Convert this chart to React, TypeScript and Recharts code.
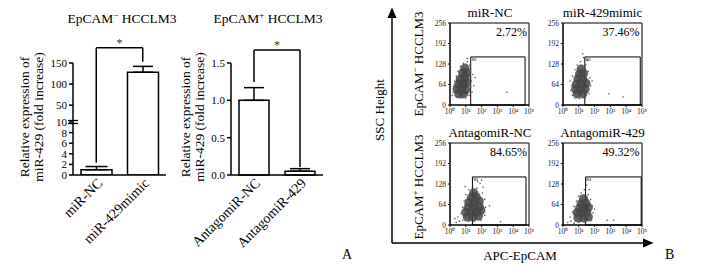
import React from "react";
import {
  BarChart,
  Bar,
  XAxis,
  YAxis,
  ErrorBar,
  ReferenceLine,
  ReferenceArea,
  ScatterChart,
  Scatter,
} from "recharts";

const SERIF = "'Liberation Serif', 'Times New Roman', serif";

// panel A (left): EpCAM- cells, y axis broken at 10
const mimicGroups = ["miR-NC", "miR-429mimic"];
const mimicMeans = [1.0, 128];
const mimicErrors = [0.6, 14];
const mimicLowTicks = [0, 2, 4, 6, 8, 10];
const mimicHighTicks = [50, 100, 150];
const mimicBreak = 10;
const mimicBracketTop = 186; // upper axis units
const mimicBracketLeft = 2.3; // lower axis units
const mimicBracketRight = 153;

// panel A (right): EpCAM+ cells
const antagoGroups = ["AntagomiR-NC", "AntagomiR-429"];
const antagoMeans = [1.0, 0.05];
const antagoErrors = [0.17, 0.035];
const antagoTicks = [0, 0.5, 1.0, 1.5];
const antagoBracketTop = 1.674;
const antagoBracketLeft = 1.245;
const antagoBracketRight = 0.107;

// panel B: flow cytometry (x in decades of APC-EpCAM, y = SSC height)
const decadeTicks = [0, 1, 2, 3, 4, 5];
const decadeLabels = ["10⁰", "10¹", "10²", "10³", "10⁴", "10⁵"];
const sscTicks = [0, 64, 128, 192, 256];
const flowTitles = ["miR-NC", "miR-429mimic", "AntagomiR-NC", "AntagomiR-429"];
const flowPercents = ["2.72%", "37.46%", "84.65%", "49.32%"];
const gateLeft = [1.31, 1.38, 1.42, 1.43];
const gateRight = [4.75, 4.89, 4.81, 4.95];
const gateTop = [150, 150, 150, 150];

const coreNC = [
  [0.55, 35], [0.85, 35], [0.45, 50], [0.75, 50], [1.0, 48], [0.55, 65], [0.85, 65],
  [1.05, 70], [0.65, 80], [0.95, 85], [0.8, 100], [1.05, 100], [0.95, 115],
];
const spreadNC = [
  [0.2, 40], [0.3, 75], [0.4, 90], [0.5, 105], [0.65, 120], [0.85, 130], [1.1, 135],
  [1.25, 125], [1.3, 110], [1.25, 90], [1.35, 75], [1.3, 55], [1.2, 30], [1.0, 22],
  [0.7, 22], [0.4, 25], [0.25, 58], [1.45, 95], [1.5, 60], [1.1, 145], [3.6, 40],
  [1.6, 85], [0.15, 30], [1.4, 40],
];
const coreMimic = [
  [0.9, 35], [1.25, 35], [0.8, 50], [1.1, 50], [1.4, 50], [0.85, 65], [1.15, 65],
  [1.45, 68], [0.95, 82], [1.25, 82], [1.05, 97], [1.3, 98], [1.15, 112],
];
const spreadMimic = [
  [0.6, 30], [0.55, 60], [0.6, 90], [0.75, 110], [0.9, 125], [1.1, 135], [1.3, 148],
  [1.45, 125], [1.6, 105], [1.7, 85], [1.75, 60], [1.65, 35], [1.4, 22], [1.05, 20],
  [0.75, 22], [0.5, 45], [1.85, 75], [1.25, 160], [2.9, 35], [3.8, 25], [1.55, 140],
  [0.45, 75],
];
const coreAntagoNC = [
  [1.1, 25], [1.45, 25], [1.8, 28], [1.0, 40], [1.35, 40], [1.7, 42], [1.95, 45],
  [1.15, 55], [1.5, 55], [1.85, 58], [1.2, 70], [1.55, 70], [1.85, 75], [1.35, 85],
  [1.65, 88], [1.5, 100],
];
const spreadAntagoNC = [
  [0.4, 8], [0.6, 12], [0.8, 15], [0.5, 25], [0.7, 35], [0.8, 55], [0.9, 75], [1.0, 95],
  [1.2, 110], [1.45, 120], [1.7, 115], [1.9, 130], [2.0, 140], [2.05, 100], [2.2, 80],
  [2.25, 55], [2.2, 30], [1.95, 15], [1.5, 12], [1.2, 12], [0.3, 20], [2.1, 118],
  [1.75, 135], [3.2, 10], [2.5, 60], [0.95, 120],
];
const coreAntago429 = [
  [0.95, 22], [1.3, 22], [1.6, 25], [0.9, 38], [1.2, 38], [1.5, 40], [1.05, 52],
  [1.35, 52], [1.6, 55], [1.15, 66], [1.45, 68], [1.3, 82],
];
const spreadAntago429 = [
  [0.3, 8], [0.5, 12], [0.45, 25], [0.6, 40], [0.7, 58], [0.85, 75], [1.0, 90],
  [1.15, 100], [1.35, 110], [1.5, 125], [1.6, 95], [1.75, 80], [1.85, 60], [1.9, 38],
  [1.8, 15], [1.4, 8], [1.0, 8], [0.7, 5], [2.8, 15], [3.2, 15], [1.45, 140],
  [1.65, 110], [2.0, 50],
];
const flowCores = [coreNC, coreMimic, coreAntagoNC, coreAntago429];
const flowSpreads = [spreadNC, spreadMimic, spreadAntagoNC, spreadAntago429];

const tickStyle = { fontSize: 11, fontFamily: SERIF, fill: "#000" };
const catTickStyle = { fontSize: 14, fontFamily: SERIF, fill: "#000" };
const axisLine = { stroke: "#000", strokeWidth: 1.5 };
const lineStyle = { stroke: "#000", strokeWidth: 1.5 };
const starLabel = { value: "*", position: "top" as const, offset: 1, fontSize: 12, fontFamily: SERIF, fill: "#333" };

const MimicChart: React.FC = () => {
  const data = mimicGroups.map((name, i) => ({
    name,
    mean: mimicMeans[i],
    err: mimicErrors[i],
  }));
  const range = (d: any) => [0, d.mean];
  const highErr = (d: any) => {
    const p = d.payload ?? d;
    return p.mean > mimicBreak ? [0, p.err] : null;
  };
  const lowErr = (d: any) => {
    const p = d.payload ?? d;
    return p.mean <= mimicBreak ? [0, p.err] : null;
  };
  return (
    <>
      {/* upper segment: 10 - 150 */}
      <div style={{ position: "absolute", left: 0, top: 33 }}>
        <BarChart
          width={170}
          height={89}
          data={data}
          barSize={31}
          margin={{ top: 30, right: 4, bottom: 0, left: 40 }}
        >
          <XAxis dataKey="name" hide />
          <YAxis
            domain={[mimicBreak, 150]}
            ticks={mimicHighTicks}
            interval={0}
            allowDataOverflow
            width={33}
            tick={tickStyle}
            tickSize={4}
            axisLine={axisLine}
            tickLine={lineStyle}
          />
          <Bar
            dataKey={range}
            fill="#fff"
            stroke="#000"
            strokeWidth={1.5}
            isAnimationActive={false}
          >
            <ErrorBar dataKey={highErr} width={10} stroke="#000" strokeWidth={1.5} />
          </Bar>
          <ReferenceLine
            segment={[
              { x: mimicGroups[0], y: mimicBracketTop },
              { x: mimicGroups[1], y: mimicBracketTop },
            ]}
            ifOverflow="visible"
            {...lineStyle}
            label={starLabel}
          />
          <ReferenceLine
            segment={[
              { x: mimicGroups[0], y: mimicBracketTop },
              { x: mimicGroups[0], y: mimicBreak },
            ]}
            ifOverflow="visible"
            {...lineStyle}
          />
          <ReferenceLine
            segment={[
              { x: mimicGroups[1], y: mimicBracketTop },
              { x: mimicGroups[1], y: mimicBracketRight },
            ]}
            ifOverflow="visible"
            {...lineStyle}
          />
        </BarChart>
      </div>
      {/* lower segment: 0 - 10 */}
      <div style={{ position: "absolute", left: 0, top: 112 }}>
        <BarChart
          width={170}
          height={141}
          data={data}
          barSize={31}
          margin={{ top: 10, right: 4, bottom: 0, left: 40 }}
        >
          <XAxis
            dataKey="name"
            height={78}
            interval={0}
            tickLine={false}
            tickSize={0}
            tickMargin={2}
            axisLine={axisLine}
            tick={{ ...catTickStyle, angle: -45, textAnchor: "end" }}
          />
          <YAxis
            domain={[0, mimicBreak]}
            ticks={mimicLowTicks}
            interval={0}
            allowDataOverflow
            width={33}
            tick={tickStyle}
            tickSize={4}
            axisLine={axisLine}
            tickLine={lineStyle}
          />
          <Bar
            dataKey={range}
            fill="#fff"
            stroke="#000"
            strokeWidth={1.5}
            isAnimationActive={false}
          >
            <ErrorBar dataKey={lowErr} width={11} stroke="#000" strokeWidth={1.5} />
          </Bar>
          <ReferenceLine
            segment={[
              { x: mimicGroups[0], y: mimicBreak },
              { x: mimicGroups[0], y: mimicBracketLeft },
            ]}
            ifOverflow="visible"
            {...lineStyle}
          />
        </BarChart>
      </div>
    </>
  );
};

const AntagoChart: React.FC = () => {
  const data = antagoGroups.map((name, i) => ({
    name,
    mean: antagoMeans[i],
    err: antagoErrors[i],
  }));
  const err = (d: any) => {
    const p = d.payload ?? d;
    return [0, p.err];
  };
  return (
    <div style={{ position: "absolute", left: 150, top: 33 }}>
      <BarChart
        width={177}
        height={220}
        data={data}
        barSize={30}
        margin={{ top: 30, right: 4, bottom: 0, left: 51 }}
      >
        <XAxis
          dataKey="name"
          height={78}
          interval={0}
          tickLine={false}
          tickSize={0}
          tickMargin={2}
          axisLine={axisLine}
          tick={{ ...catTickStyle, angle: -45, textAnchor: "end" }}
        />
        <YAxis
          domain={[0, 1.5]}
          ticks={antagoTicks}
          interval={0}
          tickFormatter={(v: number) => v.toFixed(1)}
          width={30}
          tick={tickStyle}
          tickSize={4}
          axisLine={axisLine}
          tickLine={lineStyle}
        />
        <Bar
          dataKey="mean"
          fill="#fff"
          stroke="#000"
          strokeWidth={1.5}
          isAnimationActive={false}
        >
          <ErrorBar dataKey={err} width={10} stroke="#000" strokeWidth={1.5} />
        </Bar>
        <ReferenceLine
          segment={[
            { x: antagoGroups[0], y: antagoBracketTop },
            { x: antagoGroups[1], y: antagoBracketTop },
          ]}
          ifOverflow="visible"
          {...lineStyle}
          label={starLabel}
        />
        <ReferenceLine
          segment={[
            { x: antagoGroups[0], y: antagoBracketTop },
            { x: antagoGroups[0], y: antagoBracketLeft },
          ]}
          ifOverflow="visible"
          {...lineStyle}
        />
        <ReferenceLine
          segment={[
            { x: antagoGroups[1], y: antagoBracketTop },
            { x: antagoGroups[1], y: antagoBracketRight },
          ]}
          ifOverflow="visible"
          {...lineStyle}
        />
      </BarChart>
    </div>
  );
};

const coreDot = (p: any) => (
  <circle cx={p.cx} cy={p.cy} r={4.6} fill="#464646" fillOpacity={0.85} />
);
const fineDot = (p: any) => (
  <circle cx={p.cx} cy={p.cy} r={0.8} fill="#555" />
);

const FlowPanel: React.FC<{ idx: number; left: number; top: number }> = ({ idx, left, top }) => {
  const core = flowCores[idx].map(([x, y]) => ({ x, y }));
  const spread = flowSpreads[idx].map(([x, y]) => ({ x, y }));
  const small = { fontSize: 7.5, fontFamily: SERIF, fill: "#222" };
  return (
    <div style={{ position: "absolute", left: left - 30, top: top - 10 }}>
      <ScatterChart width={119} height={112} margin={{ top: 10, right: 10, bottom: 0, left: 0 }}>
        <XAxis
          type="number"
          dataKey="x"
          domain={[0, 5]}
          ticks={decadeTicks}
          interval={0}
          tickFormatter={(v: number) => decadeLabels[v]}
          height={20}
          tickSize={2}
          tick={small}
          axisLine={{ stroke: "#000" }}
          tickLine={{ stroke: "#000" }}
        />
        <YAxis
          type="number"
          dataKey="y"
          domain={[0, 256]}
          ticks={sscTicks}
          interval={0}
          width={30}
          tickSize={2}
          tick={small}
          axisLine={{ stroke: "#000" }}
          tickLine={{ stroke: "#000" }}
        />
        <ReferenceArea x1={0} x2={5} y1={0} y2={256} fill="none" stroke="#000" strokeWidth={1} />
        <Scatter data={core} shape={coreDot} isAnimationActive={false} />
        <Scatter data={spread} shape={fineDot} isAnimationActive={false} />
        <ReferenceArea
          x1={gateLeft[idx]}
          x2={gateRight[idx]}
          y1={0}
          y2={gateTop[idx]}
          fill="none"
          stroke="#000"
          strokeWidth={1}
          label={{ value: "R8", position: "insideTopLeft", offset: 1, fontSize: 4, fill: "#000" }}
        />
      </ScatterChart>
    </div>
  );
};

const flowLeft = [450, 562.5, 450, 562.5];
const flowTop = [23, 23, 143, 143];

const Sup: React.FC<{ ch: string }> = ({ ch }) => (
  <>
    <tspan dy={-5} fontSize={9}>{ch}</tspan>
    <tspan dy={5}> HCCLM3</tspan>
  </>
);

const Overlay: React.FC = () => (
  <svg
    width={705}
    height={269}
    style={{ position: "absolute", left: 0, top: 0, pointerEvents: "none" }}
    fontFamily={SERIF}
    fill="#000"
  >
    <defs>
      <marker id="arr" markerWidth="8" markerHeight="8" refX="6" refY="4" orient="auto">
        <path d="M0,1 L7,4 L0,7 Z" fill="#000" />
      </marker>
    </defs>
    {/* panel A titles and labels */}
    <text x={122} y={23} fontSize={13.5} textAnchor="middle">
      EpCAM<Sup ch="−" />
    </text>
    <text x={268} y={23} fontSize={13.5} textAnchor="middle">
      EpCAM<Sup ch="+" />
    </text>
    <text transform="translate(29,117) rotate(-90)" fontSize={13.5} textAnchor="middle">
      <tspan x={0}>Relative expression of</tspan>
      <tspan x={0} dy={13.5}>miR-429 (fold increase)</tspan>
    </text>
    <text transform="translate(190,117) rotate(-90)" fontSize={13.5} textAnchor="middle">
      <tspan x={0}>Relative expression of</tspan>
      <tspan x={0} dy={13.5}>miR-429 (fold increase)</tspan>
    </text>
    {/* axis break marks */}
    <line x1={68} y1={120.5} x2={78} y2={120.5} stroke="#000" strokeWidth={1.3} />
    <line x1={68} y1={123.5} x2={78} y2={123.5} stroke="#000" strokeWidth={1.3} />
    <text x={342} y={259} fontSize={14}>A</text>

    {/* panel B frame */}
    <line x1={392} y1={243} x2={392} y2={9} stroke="#000" strokeWidth={1.5} markerEnd="url(#arr)" />
    <line x1={392} y1={243} x2={652} y2={243} stroke="#000" strokeWidth={1.5} markerEnd="url(#arr)" />
    <text transform="translate(384,110) rotate(-90)" fontSize={13} textAnchor="middle">SSC Height</text>
    <text transform="translate(423,64) rotate(-90)" fontSize={13} textAnchor="middle">
      EpCAM<Sup ch="−" />
    </text>
    <text transform="translate(423,187) rotate(-90)" fontSize={13} textAnchor="middle">
      EpCAM<Sup ch="+" />
    </text>
    {flowTitles.map((t, i) => (
      <text key={t} x={flowLeft[i] + 40} y={flowTop[i] - 6} fontSize={13} textAnchor="middle">
        {t}
      </text>
    ))}
    {flowPercents.map((t, i) => (
      <text key={t} x={flowLeft[i] + 77} y={flowTop[i] + 13} fontSize={12} textAnchor="end">
        {t}
      </text>
    ))}
    <text x={520} y={260} fontSize={13} textAnchor="middle">APC-EpCAM</text>
    <text x={665} y={259} fontSize={14}>B</text>
  </svg>
);

const App: React.FC = () => {
  return (
    <div
      style={{
        position: "fixed",
        left: 0,
        top: 0,
        width: 705,
        height: 269,
        background: "#fff",
        overflow: "hidden",
      }}
    >
      <MimicChart />
      <AntagoChart />
      {flowTitles.map((t, i) => (
        <FlowPanel key={t} idx={i} left={flowLeft[i]} top={flowTop[i]} />
      ))}
      <Overlay />
    </div>
  );
};

export default App;
